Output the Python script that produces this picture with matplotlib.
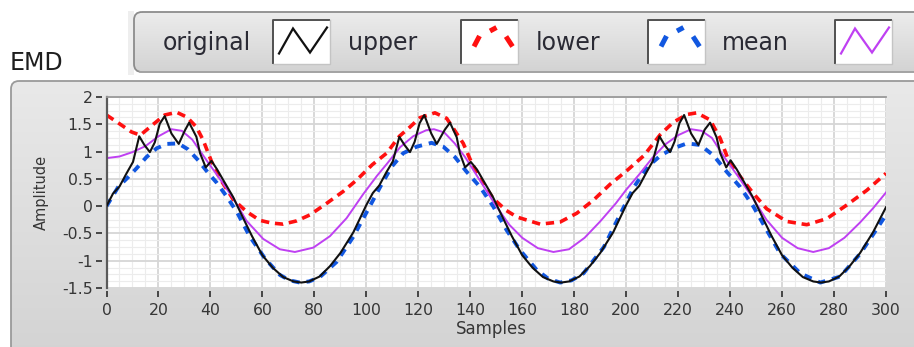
import numpy as np
import matplotlib
matplotlib.use("Agg")
import matplotlib.pyplot as plt
from matplotlib.patches import FancyBboxPatch, Rectangle
from matplotlib.colors import LinearSegmentedColormap
from matplotlib.ticker import MultipleLocator, FuncFormatter

# ---------------- data ----------------
orig_x = [0, 2.5, 5, 7.7, 10.2, 12.6, 14.6, 16.7, 18.6, 20.5, 22.4, 25, 27.8, 30.2, 31.8, 34.6, 36, 38.2,
          40.4, 42.6, 44.9, 48.7, 52.6, 56, 60, 64, 68, 72, 75, 78, 82, 86, 90, 95,
          100, 102.5, 105, 107.7, 110.2, 112.7, 114.7, 116.8, 118.6, 120.5, 122.3, 125, 127.1, 130.2, 132.2,
          134.8, 136, 138, 140.2, 142.6, 144.9, 148.7, 152.6, 156, 160, 164, 168, 172, 175, 178, 182, 186,
          190, 195,
          200, 202.5, 205, 207.7, 210.2, 212.8, 214.8, 216.9, 218.6, 220.5, 222.3, 225, 227.8, 230.2, 232.3,
          234.8, 236.2, 238.5, 240.2, 242.6, 244.9, 248.7, 252.6, 256, 260, 264, 268, 272, 275, 278, 282, 286,
          290, 295, 300]
orig_y = [0.00, 0.23, 0.36, 0.60, 0.81, 1.28, 1.12, 0.99, 1.17, 1.51, 1.65, 1.33, 1.14, 1.39, 1.53, 1.27, 0.97, 0.71,
          0.83, 0.67, 0.48, 0.17, -0.22, -0.55, -0.90, -1.13, -1.30, -1.38, -1.40, -1.38, -1.29, -1.10, -0.86, -0.48,
          0.02, 0.24, 0.38, 0.62, 0.82, 1.27, 1.12, 0.99, 1.18, 1.52, 1.67, 1.33, 1.14, 1.40, 1.53,
          1.26, 0.97, 0.71, 0.81, 0.67, 0.48, 0.17, -0.22, -0.55, -0.90, -1.13, -1.30, -1.38, -1.40, -1.38, -1.29, -1.10,
          -0.86, -0.48,
          0.02, 0.24, 0.37, 0.61, 0.82, 1.28, 1.12, 0.99, 1.18, 1.52, 1.67, 1.33, 1.12, 1.40, 1.53,
          1.26, 0.97, 0.71, 0.84, 0.67, 0.48, 0.17, -0.22, -0.55, -0.90, -1.13, -1.30, -1.38, -1.40, -1.38, -1.29, -1.10,
          -0.86, -0.48, -0.02]

upper_x = [0, 5, 9.6, 13, 18, 22.4, 27, 31, 34.6, 37.2, 40.4, 43.6, 48.8, 53.9, 59, 63.5, 68, 73.2, 78.3,
           84.7, 91.1, 96.3, 102.3, 107.8, 112.7, 116.8, 120.6, 126.4, 130.9, 134.8, 137.3, 140.3, 143.6,
           148.8, 153.9, 158, 166.9, 174.6, 181, 187.4, 193.8, 200.5, 206.9, 213.1, 218.2, 223.4, 227.2,
           232.3, 236.2, 239.4, 243.9, 249, 254.1, 261.8, 269.5, 277.2, 284.9, 292.6, 300]
upper_y = [1.67, 1.51, 1.36, 1.30, 1.50, 1.67, 1.72, 1.63, 1.45, 1.21, 0.82, 0.51, 0.12, -0.10, -0.26, -0.31,
           -0.33, -0.27, -0.16, 0.05, 0.27, 0.48, 0.76, 0.97, 1.28, 1.45, 1.62, 1.71, 1.61, 1.33, 1.15, 0.82, 0.52,
           0.14, -0.08, -0.20, -0.33, -0.29, -0.13, 0.11, 0.40, 0.66, 0.93, 1.31, 1.54, 1.68, 1.71,
           1.58, 1.24, 0.84, 0.54, 0.23, -0.05, -0.28, -0.34, -0.23, 0.02, 0.29, 0.60]

lower_x = [0, 4.5, 8.3, 11.5, 15.4, 19.3, 23.1, 27.6, 31.4, 35.3, 39.1, 42.4, 46.2, 50.1, 55.2, 61, 66.7,
           70.5, 74.4, 78, 82.1, 88.6, 95, 100.8, 105.3, 109.7, 114.2, 119.4, 125.1, 129.6, 134.1, 138.6,
           143.8, 148.9, 154, 159.2, 165.6, 170, 174.6, 179, 183.6, 191.4, 197.9, 203, 208.2, 213.3, 218.2,
           223.4, 228.5, 233.6, 238.7, 243.9, 249, 254.1, 259.3, 267, 274.7, 282.4, 290.1, 295.3, 300]
lower_y = [0.00, 0.35, 0.53, 0.69, 0.90, 1.06, 1.14, 1.15, 1.04, 0.84, 0.61, 0.43, 0.18, -0.10, -0.56, -0.96,
           -1.26, -1.36, -1.40, -1.38, -1.30, -1.02, -0.56, -0.05, 0.35, 0.72, 0.97, 1.09, 1.16, 1.09, 0.90, 0.63,
           0.35, -0.01, -0.44, -0.81, -1.17, -1.33, -1.40, -1.36, -1.23, -0.75, -0.13, 0.35, 0.72, 0.93, 1.06,
           1.15, 1.12, 0.93, 0.63, 0.35, -0.01, -0.44, -0.87, -1.23, -1.40, -1.29, -0.87, -0.50, -0.16]

mean_x = [0, 5, 10, 15, 20, 25, 29, 33, 38.5, 43.6, 48.7, 53.9, 60.3, 66.7, 72.5, 79.6, 86, 92.4, 98.8,
          104, 108, 113, 118, 123, 126, 130, 134, 138, 142, 146, 150, 155, 160, 166, 172, 178, 184, 190,
          196, 200, 205, 210, 215, 220, 225, 229, 233, 238, 243, 248, 254, 260, 266, 272, 278, 284, 290,
          295, 300]
mean_y = [0.88, 0.91, 0.99, 1.10, 1.28, 1.41, 1.38, 1.22, 0.84, 0.50, 0.15, -0.27, -0.60, -0.79, -0.84, -0.76,
          -0.55, -0.22, 0.22, 0.55, 0.78, 1.08, 1.28, 1.39, 1.41, 1.35, 1.15, 0.90, 0.60, 0.30, 0.00, -0.34,
          -0.58, -0.77, -0.84, -0.79, -0.58, -0.28, 0.05, 0.30, 0.58, 0.88, 1.13, 1.30, 1.41, 1.38, 1.25, 0.88,
          0.55, 0.20, -0.25, -0.58, -0.77, -0.84, -0.77, -0.58, -0.30, -0.04, 0.25]

legend_labels = ["original", "upper", "lower", "mean"]
title_text = "EMD"
x_label = "Samples"
y_label = "Amplitude"
x_ticks = list(range(0, 301, 20))
y_ticks = [-1.5, -1, -0.5, 0, 0.5, 1, 1.5, 2]

# ---------------- styles ----------------
C_ORIG = "#111111"
C_UP = "#ff1010"
C_LOW = "#1157e0"
C_MEAN = "#bf40f2"
TXT = "#363636"

W, H = 914, 347
fig = plt.figure(figsize=(W / 100, H / 100), dpi=100, facecolor="white")

bg = fig.add_axes([0, 0, 1, 1], zorder=0)
bg.set_xlim(0, W)
bg.set_ylim(H, 0)
bg.axis("off")


def gradient_panel(x0, y0, w, h, top, bottom, edge, r=8):
    patch = FancyBboxPatch((x0, y0), w, h, boxstyle=f"round,pad=0,rounding_size={r}",
                           facecolor="none", edgecolor=edge, lw=1.3, zorder=3)
    bg.add_patch(patch)
    cmap = LinearSegmentedColormap.from_list("g", [top, bottom])
    grad = np.linspace(0, 1, 256).reshape(-1, 1)
    im = bg.imshow(grad, extent=(x0, x0 + w, y0 + h, y0), origin="upper", aspect="auto",
                   cmap=cmap, zorder=1, interpolation="bilinear")
    clip = FancyBboxPatch((x0, y0), w, h, boxstyle=f"round,pad=0,rounding_size={r}",
                          transform=bg.transData, facecolor="none", edgecolor="none")
    bg.add_patch(clip)
    im.set_clip_path(clip)
    bg.set_xlim(0, W)
    bg.set_ylim(H, 0)


# light strip left of the legend panel
bg.add_patch(Rectangle((128, 11), 6, 64, facecolor="#eeeeee", edgecolor="none", zorder=1))
# legend panel
gradient_panel(134, 12, 800, 60, "#ececec", "#d3d3d3", "#8c8c8c")
bg.plot([140, 914], [71.5, 71.5], color="#a8a8a8", lw=1.2, zorder=4)
# main panel
gradient_panel(11, 81, 920, 290, "#e9e9e9", "#d2d2d2", "#9a9a9a")

# title
bg.text(10, 70, title_text, fontsize=17, color="#1e1e1e", ha="left", va="baseline", zorder=5)

# legend items
label_x = [163, 348, 536, 722]
box_x = [273, 461, 648, 835]
colors = [C_ORIG, C_UP, C_LOW, C_MEAN]
solid = [True, False, False, True]
for lab, lx, bx, col, sol in zip(legend_labels, label_x, box_x, colors, solid):
    bg.text(lx, 49.5, lab, fontsize=17, color="#2a2a34", ha="left", va="baseline", zorder=5)
    by, bw, bh = 19.5, 57, 44
    bg.add_patch(Rectangle((bx, by), bw, bh, facecolor="white", edgecolor="none", zorder=4))
    bg.plot([bx, bx, bx + bw], [by + bh, by, by], color="#505050", lw=1.4, zorder=6, solid_capstyle="butt")
    bg.plot([bx, bx + bw, bx + bw], [by + bh, by + bh, by], color="#c4c4c4", lw=1.0, zorder=6)
    if sol:
        bg.plot([bx + 6, bx + 20, bx + 37, bx + 54], [by + 34, by + 9, by + 33, by + 8],
                color=col, lw=1.6, zorder=7, solid_joinstyle="miter")
    else:
        segs = [((13, 27), (18.5, 16.5)), ((29, 11.5), (35.5, 8)), ((45, 17), (51.5, 27))]
        for (ax0, ay0), (ax1, ay1) in segs:
            bg.plot([bx + ax0, bx + ax1], [by + ay0, by + ay1], color=col, lw=3.6, zorder=7,
                    solid_capstyle="butt")

# ---------------- plot area ----------------
L, R, T, B = 106.5, 886, 97, 288
ax = fig.add_axes([L / W, 1 - B / H, (R - L) / W, (B - T) / H], zorder=2)
ax.set_facecolor("white")
ax.set_xlim(0, 300)
ax.set_ylim(-1.5, 2)
ax.set_xticks(x_ticks)
ax.set_yticks(y_ticks)
ax.yaxis.set_major_formatter(FuncFormatter(lambda v, p: f"{v:g}"))
ax.xaxis.set_minor_locator(MultipleLocator(5))
ax.yaxis.set_minor_locator(MultipleLocator(0.125))
ax.grid(which="major", color="#d6d6d6", lw=1.3)
ax.grid(which="minor", color="#ececec", lw=0.8)
ax.set_axisbelow(True)
for s in ax.spines.values():
    s.set_visible(False)
ax.spines["left"].set_position(("outward", 3))
ax.spines["bottom"].set_position(("outward", 2.5))
ax.tick_params(which="minor", length=0)
ax.tick_params(which="major", direction="out", length=4.5, width=1.3, color="#3a3a3a",
               labelsize=11.3, labelcolor=TXT, pad=2.5)
ax.tick_params(axis="x", pad=3.5)

ax.plot([0, 0], [0, 1], transform=ax.transAxes, color="#5a5a5a", lw=1.6, clip_on=False, zorder=5)
ax.plot([0, 1], [1, 1], transform=ax.transAxes, color="#9a9a9a", lw=1.3, clip_on=False, zorder=5)

ax.plot(upper_x, upper_y, color=C_UP, lw=2.6, ls=(0, (2.3, 1.6)), dash_capstyle="butt", zorder=3)
ax.plot(lower_x, lower_y, color=C_LOW, lw=2.8, ls=(0, (2.0, 1.8)), dash_capstyle="butt", zorder=3)
ax.plot(mean_x, mean_y, color=C_MEAN, lw=1.4, zorder=4)
ax.plot(orig_x, orig_y, color=C_ORIG, lw=1.5, zorder=5)

fig.text(41.5 / W, 1 - 192.5 / H, y_label, rotation=90, fontsize=10.5, color=TXT,
         ha="center", va="center", zorder=5)
fig.text(491.5 / W, 1 - 329 / H, x_label, fontsize=12, color=TXT, ha="center", va="center", zorder=5)

fig.savefig("out.png", dpi=100, facecolor="white")
